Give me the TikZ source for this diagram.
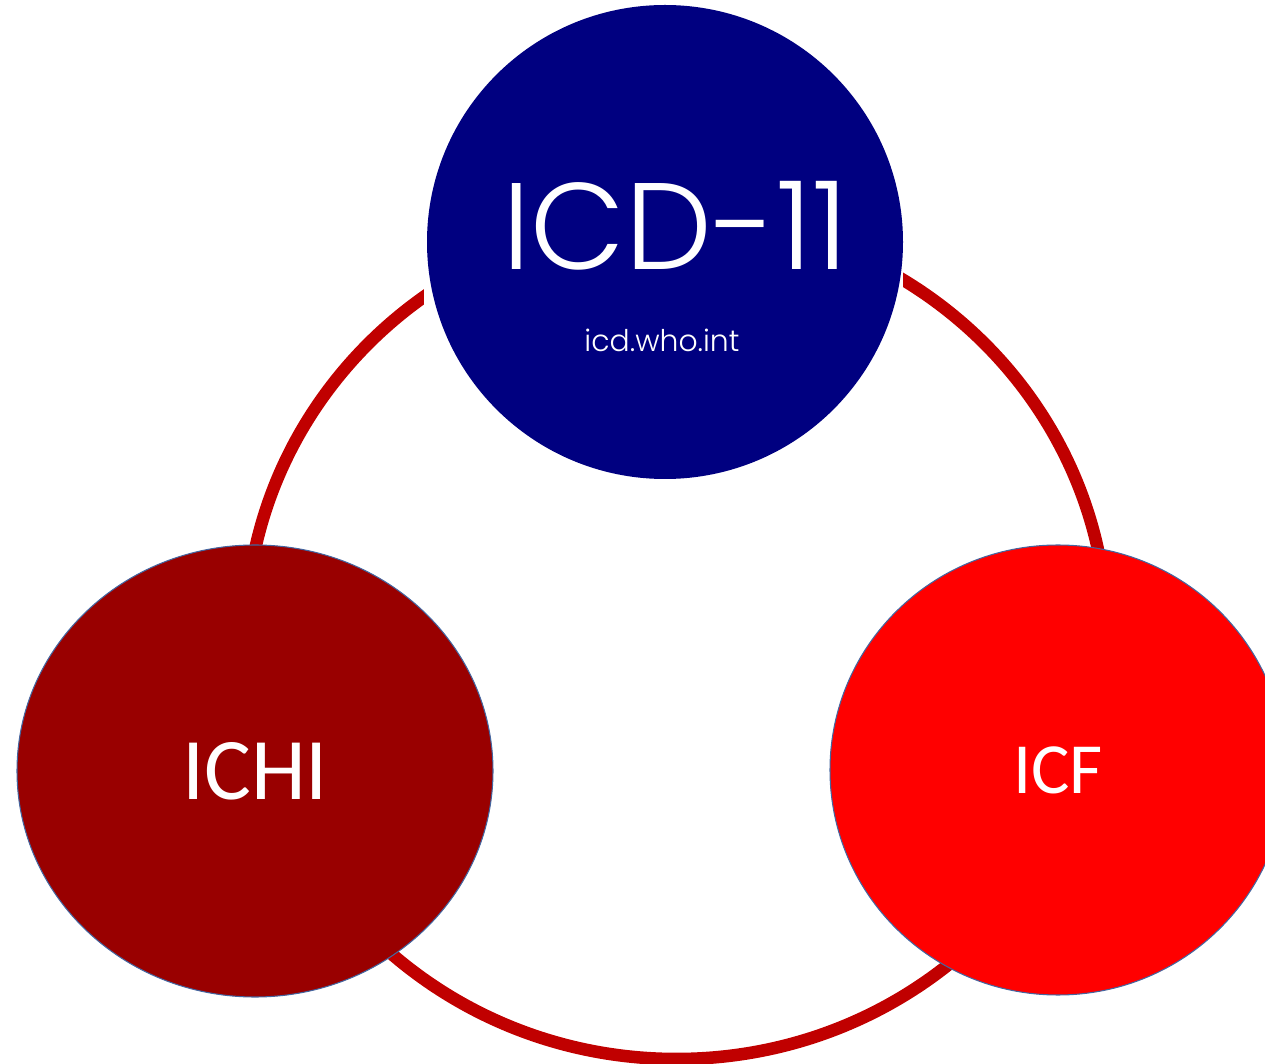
\documentclass[tikz,border=0pt]{standalone}
\usepackage{fontspec}
\setmainfont{Carlito}
\newfontfamily\icdfont{Poppins Light}
\definecolor{icdblue}{RGB}{0,0,128}
\definecolor{ichired}{RGB}{153,0,0}
\definecolor{icfred}{RGB}{255,0,0}
\definecolor{ringred}{RGB}{192,0,0}
\definecolor{rimblue}{RGB}{68,102,160}
\usetikzlibrary{positioning}
\usetikzlibrary{shapes.geometric}
\usetikzlibrary{backgrounds}

\begin{document}
\begin{tikzpicture}[
      fam style/.style={ellipse,draw=rimblue,line width=0.6pt,inner sep=0pt,
        text=white,font=\fontsize{50}{60}\selectfont},
      ring style/.style={draw=ringred,line width=0.25cm}
      ]
      \useasboundingbox (0,0) rectangle (25.3,21.26);

      \node[fam style,fill=icdblue,draw=none,minimum width=9.52cm,minimum height=9.48cm] (icd) at (13.30,16.42) {};
      \node[text=white,anchor=base,font=\icdfont\fontsize{70}{80}\selectfont] (icdname) at (13.51,15.86) {ICD-11};
      \node[text=white,anchor=base,font=\icdfont\fontsize{17}{20}\selectfont] (icdurl) at (13.24,14.22) {icd.who.int};

      \node[fam style,fill=ichired,minimum width=9.52cm,minimum height=9.04cm] (ichi) at (5.10,5.84) {ICHI};
      \node[fam style,fill=icfred,minimum width=9.12cm,minimum height=9.0cm,
        font=\fontsize{41}{50}\selectfont] (icf) at (21.16,5.86) {ICF};

      \begin{scope}[on background layer]
        \draw[ring style] (13.53,8.50) ellipse [x radius=8.62cm, y radius=8.42cm];
        \fill[white] (8.48,11.86) rectangle (18.06,21.5);
      \end{scope}
\end{tikzpicture}
\end{document}
